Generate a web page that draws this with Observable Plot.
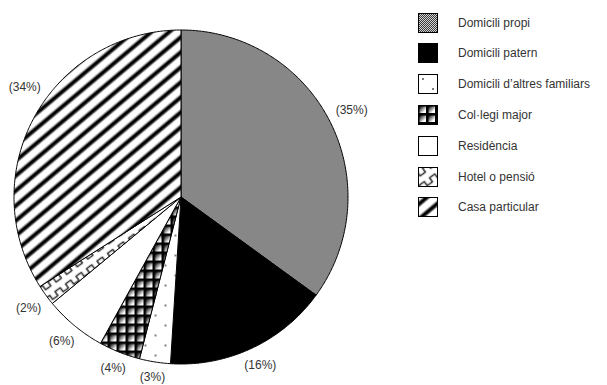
<!DOCTYPE html>
<html>
<head>
<meta charset="utf-8">
<script src="https://cdn.jsdelivr.net/npm/d3@7"></script>
<script src="https://cdn.jsdelivr.net/npm/@observablehq/plot@0.6"></script>
<style>
  html, body { margin: 0; padding: 0; background: #fff; }
  #wrap { position: relative; width: 607px; height: 385px; overflow: hidden; font-family: "Liberation Sans", Arial, Helvetica, sans-serif; }
  #legend { position: absolute; left: 418px; top: 12.7px; }
  .row { display: flex; align-items: center; height: 20px; margin-bottom: 10.8px; }
  .row svg { display: block; flex: none; }
  .row span { margin-left: 20px; font-size: 12px; color: #333; white-space: nowrap; }
</style>
</head>
<body>
<div id="wrap"><div id="legend"></div></div>
<script>
const categories = ["Domicili propi", "Domicili patern", "Domicili d’altres familiars", "Col·legi major", "Residència", "Hotel o pensió", "Casa particular"];
const values = [35, 16, 3, 4, 6, 2, 34];
const labels = ["(35%)", "(16%)", "(3%)", "(4%)", "(6%)", "(2%)", "(34%)"];
const fills = ["url(#p0)", "black", "url(#p2)", "url(#p3)", "white", "url(#p5)", "url(#p6)"];

const defs = `
<defs>
  <pattern id="p0" patternUnits="userSpaceOnUse" width="2" height="2">
    <rect width="2" height="2" fill="#d4d4d4"/>
    <rect width="1" height="1" fill="#3a3a3a"/>
    <rect x="1" y="1" width="1" height="1" fill="#3a3a3a"/>
  </pattern>
  <pattern id="p2" patternUnits="userSpaceOnUse" width="20" height="20">
    <rect width="20" height="20" fill="white"/>
    <circle cx="5" cy="5" r="1" fill="#555"/>
    <circle cx="15" cy="15" r="1" fill="#555"/>
  </pattern>
  <linearGradient id="g3" x1="0" y1="0" x2="1" y2="1">
    <stop offset="0" stop-color="#000"/>
    <stop offset="0.75" stop-color="#fff"/>
    <stop offset="1" stop-color="#fff"/>
  </linearGradient>
  <pattern id="p3" patternUnits="userSpaceOnUse" width="9" height="9">
    <rect width="9" height="9" fill="#000"/>
    <rect x="1.5" y="1.5" width="6.5" height="6.5" fill="url(#g3)"/>
  </pattern>
  <pattern id="p5" patternUnits="userSpaceOnUse" width="13" height="12" patternTransform="rotate(-36)">
    <rect width="13" height="12" fill="white"/>
    <path d="M0,8.5 L3,8.5 L3,3.5 L9.5,3.5 L9.5,8.5 L13,8.5" fill="none" stroke="#333" stroke-width="1.6" stroke-linejoin="round"/>
  </pattern>
  <linearGradient id="g6" x1="0" y1="0" x2="1" y2="0">
    <stop offset="0" stop-color="#fff"/>
    <stop offset="0.25" stop-color="#fff"/>
    <stop offset="0.45" stop-color="#000"/>
    <stop offset="0.6" stop-color="#000"/>
    <stop offset="0.8" stop-color="#fff"/>
    <stop offset="1" stop-color="#fff"/>
  </linearGradient>
  <pattern id="p6" patternUnits="userSpaceOnUse" width="11.5" height="11.5" patternTransform="rotate(50)">
    <rect width="11.5" height="11.5" fill="url(#g6)"/>
  </pattern>
</defs>`;

// Pie geometry (layout)
const W = 607, H = 385;
const cx = 180.5, cy = 196.5, r = 167;
const arcs = d3.pie().sort(null).value(d => d)(values);

const slices = arcs.map((a, i) => {
  const pts = [{x: 0, y: 0}];
  const n = Math.max(2, Math.ceil((a.endAngle - a.startAngle) / (Math.PI / 360)));
  for (let k = 0; k <= n; k++) {
    const t = a.startAngle + (a.endAngle - a.startAngle) * k / n;
    pts.push({x: Math.sin(t), y: Math.cos(t)});
  }
  pts.push({x: 0, y: 0});
  return pts;
});

// label placed just outside the arc, pushed out by half its box;
// if it would cross the left/right frame edge, slide it around the circle until it fits
const gap = 8, halfH = 5, edge = 8;
const labelData = arcs.map((a, i) => {
  let m = (a.startAngle + a.endAngle) / 2;
  const halfW = labels[i].length * 3.2;
  const place = (t) => {
    const d = r + gap + halfW * Math.abs(Math.sin(t)) + halfH * Math.abs(Math.cos(t));
    return {px: cx + d * Math.sin(t), d};
  };
  const step = -Math.sign(Math.sin(m) * Math.cos(m)) * 0.005;
  let p = place(m), guard = 0;
  while ((p.px - halfW < edge || p.px + halfW > W - edge) && guard++ < 200) {
    m += step;
    p = place(m);
  }
  const dist = p.d / r;
  return {x: dist * Math.sin(m), y: dist * Math.cos(m), label: labels[i]};
});

const chart = Plot.plot({
  width: W,
  height: H,
  margin: 0,
  x: {domain: [-1, 1], range: [cx - r, cx + r], axis: null},
  y: {domain: [-1, 1], range: [cy + r, cy - r], axis: null},
  style: {fontFamily: "'Liberation Sans', Arial, Helvetica, sans-serif", background: "white", overflow: "visible"},
  marks: [
    ...slices.map((pts, i) => Plot.line(pts, {x: "x", y: "y", fill: fills[i], stroke: "black", strokeWidth: 1, strokeLinejoin: "round"})),
    Plot.text(labelData, {x: "x", y: "y", text: "label", fontSize: 12, fill: "#333"})
  ]
});
chart.insertAdjacentHTML("afterbegin", defs);
const wrap = document.getElementById("wrap");
wrap.insertBefore(chart, wrap.firstChild);
chart.style.position = "absolute";
chart.style.left = "0";
chart.style.top = "0";

const legend = document.getElementById("legend");
categories.forEach((c, i) => {
  const row = document.createElement("div");
  row.className = "row";
  row.innerHTML = `<svg width="20" height="20"><rect x="0.5" y="0.5" width="19" height="19" fill="${fills[i]}" stroke="black" stroke-width="1"/></svg><span>${c}</span>`;
  legend.appendChild(row);
});
</script>
</body>
</html>
